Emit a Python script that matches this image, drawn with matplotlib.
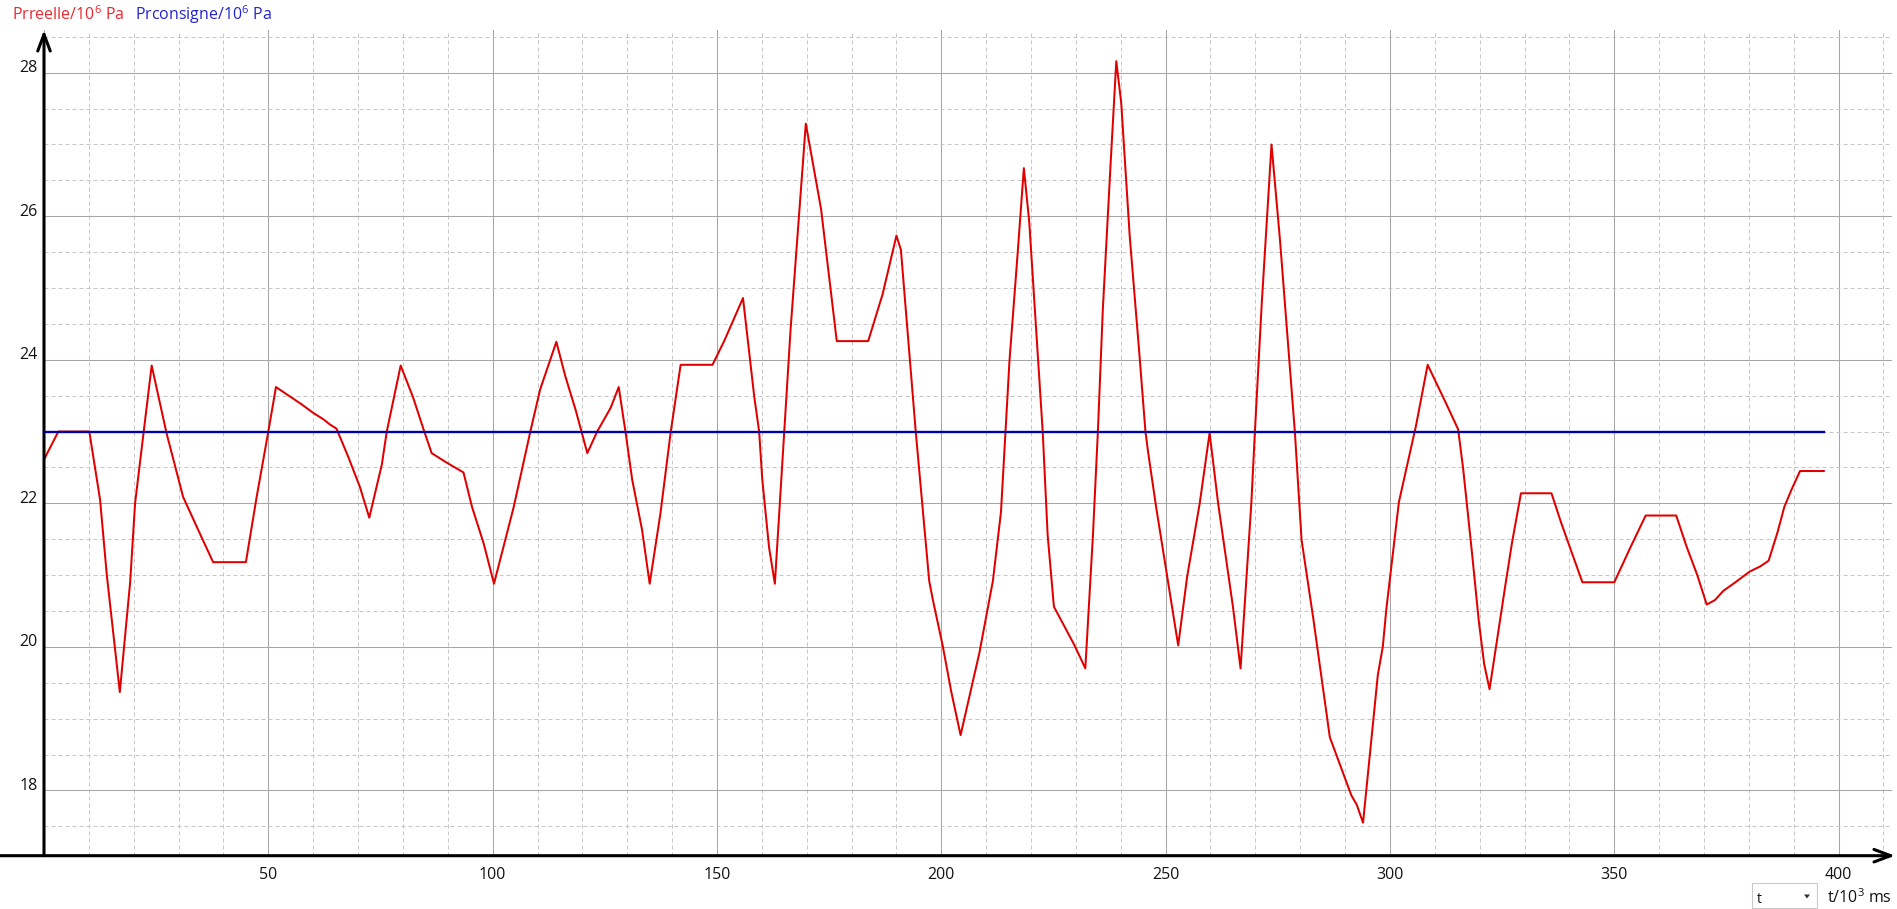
import matplotlib
matplotlib.use("Agg")
import matplotlib.pyplot as plt
from matplotlib.patches import Rectangle, Polygon
from matplotlib.ticker import MultipleLocator
import matplotlib.transforms as mtransforms

# ---------------- data ----------------
t_reel = [0, 3.2, 10.1, 12.5, 14.0, 16.9, 19.2, 20.3, 24.0, 27.3, 31.0, 35.1, 37.7, 45.0,
          47.4, 50.0, 51.7, 54.8, 57.4, 60.0, 62.3, 63.7, 65.2, 67.8, 70.4, 72.5, 75.3,
          76.4, 79.5, 82.3, 84.6, 86.4, 89.4, 93.5, 95.4, 98.0, 100.3, 104.7, 108.4, 110.6,
          114.2, 116.2, 118.5, 121.1, 123.3, 126.3, 128.1, 129.6, 131.1, 133.3, 135.0, 137.4,
          139.7, 141.9, 149.0, 151.6, 155.8, 158.3, 159.4, 160.1, 161.6, 162.9, 165.0, 166.4,
          169.8, 173.2, 176.7, 183.7, 186.9, 190.0, 191.0, 194.3, 197.3, 198.1, 200.3, 202.2,
          204.3, 208.5, 211.5, 213.3, 215.2, 217.0, 218.4, 219.6, 222.6, 223.7, 225.1, 229.7,
          232.1, 233.8, 234.9, 236.0, 237.7, 239.0, 240.1, 242.0, 244.1, 245.5, 246.1, 247.9,
          250.5, 252.8, 254.8, 257.6, 259.8, 261.7, 265.0, 266.7, 269.1, 269.9, 271.4, 273.6,
          275.5, 278.8, 280.3, 282.9, 286.6, 291.4, 292.6, 294.0, 297.3, 298.4, 299.2, 302.0,
          303.5, 305.8, 308.4, 312.6, 315.2, 316.3, 318.3, 319.8, 321.0, 322.2, 325.7, 327.2,
          329.2, 336.0, 338.1, 340.6, 342.9, 350.0, 353.7, 357.0, 363.8, 366.1, 368.5, 370.6,
          372.4, 374.3, 377.0, 380.2, 382.5, 384.4, 386.4, 387.9, 389.5, 391.4, 396.7]
p_reel = [22.61, 23.0, 23.0, 22.05, 21.0, 19.37, 20.9, 22.0, 23.92, 22.98, 22.09, 21.53, 21.18, 21.18,
          22.09, 23.0, 23.62, 23.49, 23.38, 23.26, 23.17, 23.10, 23.04, 22.65, 22.23, 21.80, 22.54,
          23.0, 23.92, 23.47, 23.03, 22.70, 22.58, 22.43, 21.95, 21.44, 20.88, 21.95, 23.0, 23.59,
          24.25, 23.77, 23.3, 22.7, 23.0, 23.33, 23.62, 23.0, 22.33, 21.63, 20.88, 21.86,
          23.0, 23.93, 23.93, 24.26, 24.86, 23.49, 23.0, 22.33, 21.39, 20.88, 23.0, 24.42,
          27.29, 26.1, 24.26, 24.26, 24.91, 25.73, 25.53, 23.0, 20.92, 20.66, 20.02, 19.38,
          18.77, 19.92, 20.92, 21.88, 23.99, 25.47, 26.67, 25.92, 23.0, 21.56, 20.56, 20.02,
          19.7, 21.56, 23.0, 24.7, 26.69, 28.16, 27.58, 25.72, 24.12, 23.0, 22.71, 21.94,
          20.92, 20.02, 20.98, 22.0, 22.98, 22.0, 20.56, 19.70, 22.0, 23.0, 24.76, 27.0,
          25.66, 23.0, 21.49, 20.40, 18.74, 17.93, 17.80, 17.55, 19.61, 20.0, 20.53, 22.02,
          22.44, 23.08, 23.93, 23.38, 23.03, 22.49, 21.30, 20.36, 19.76, 19.41, 20.85, 21.45,
          22.14, 22.14, 21.74, 21.30, 20.90, 20.90, 21.40, 21.83, 21.83, 21.40, 21.00, 20.59,
          20.65, 20.78, 20.90, 21.05, 21.12, 21.20, 21.60, 21.95, 22.19, 22.45, 22.45]
t_consigne = [0, 396.7]
p_consigne = [23.0, 23.0]

x_tick_labels = [50, 100, 150, 200, 250, 300, 350, 400]
y_tick_labels = [18, 20, 22, 24, 26, 28]

label_reel = r"Prreelle/$\mathregular{10^{6}}$ Pa"
label_consigne = r"Prconsigne/$\mathregular{10^{6}}$ Pa"
x_label = r"t/$\mathregular{10^{3}}$ ms"
combo_text = "t"

# ---------------- style ----------------
plt.rcParams['font.family'] = ['Open Sans', 'DejaVu Sans']
plt.rcParams['mathtext.fontset'] = 'custom'
plt.rcParams['mathtext.rm'] = 'Open Sans'
plt.rcParams['mathtext.it'] = 'Open Sans:italic'
plt.rcParams['mathtext.bf'] = 'Open Sans:bold'

W, H = 1897, 909
fig = plt.figure(figsize=(W / 100, H / 100), dpi=100)
fig.patch.set_facecolor('white')

ax_left, ax_right, ax_bottom, ax_top = 44, 1892, 855.7, 30
ax = fig.add_axes([ax_left / W, 1 - ax_bottom / H, (ax_right - ax_left) / W, (ax_bottom - ax_top) / H])
ax.set_xlim(0, 411.9)
ax.set_ylim(17.09, 28.595)
for s in ax.spines.values():
    s.set_visible(False)

ax.xaxis.set_major_locator(MultipleLocator(50))
ax.xaxis.set_minor_locator(MultipleLocator(10))
ax.yaxis.set_major_locator(MultipleLocator(2))
ax.yaxis.set_minor_locator(MultipleLocator(0.5))
ax.tick_params(which='both', length=0, labelbottom=False, labelleft=False)
ax.grid(which='major', color='#a6a6a6', lw=0.75, zorder=0)
ax.grid(which='minor', color='#c6c6c6', lw=0.72, linestyle=(0, (4, 3)), zorder=0)
ax.set_axisbelow(True)

ax.plot(t_reel, p_reel, color='#e00000', lw=1.45, zorder=3)
ax.plot(t_consigne, p_consigne, color='#0000aa', lw=1.7, zorder=4)

# tick labels
xt = ax.get_xaxis_transform() + mtransforms.ScaledTranslation(0, -23.3 / 100, fig.dpi_scale_trans)
for v in x_tick_labels:
    ax.text(v, 0, str(v), transform=xt, ha='center', va='baseline', fontsize=11.5, color='#141414')
yt = ax.get_yaxis_transform() + mtransforms.ScaledTranslation(-6 / 100, 0.6 / 100, fig.dpi_scale_trans)
for v in y_tick_labels:
    ax.text(0, v, str(v), transform=yt, ha='right', va='baseline', fontsize=11.5, color='#141414')

# axes arrows
arrow_kw = dict(arrowstyle='->,head_length=1.2,head_width=0.45', lw=2.2, color='black',
                shrinkA=0, shrinkB=0, mutation_scale=10)
ax.annotate('', xy=((1895 - ax_left) / (ax_right - ax_left), 0),
            xytext=(-ax_left / (ax_right - ax_left), 0),
            xycoords='axes fraction', textcoords='axes fraction',
            arrowprops=arrow_kw, annotation_clip=False)
ax.annotate('', xy=(0, 1.0), xytext=(0, 0),
            xycoords='axes fraction', textcoords='axes fraction',
            arrowprops=arrow_kw, annotation_clip=False)

# series labels at the top
fig.text(11.7 / W, 1 - 20 / H, label_reel, color='#e82a30', fontsize=11.5, va='baseline', ha='left')
fig.text(135 / W, 1 - 20 / H, label_consigne, color='#2424cc', fontsize=11.5, va='baseline', ha='left')

# x label and selector box
fig.text(1892 / W, 1 - 903 / H, x_label, color='#141414', fontsize=11.5, va='baseline', ha='right')
fig.patches.append(Rectangle((1752 / W, 1 - 908 / H), 65 / W, 25 / H, transform=fig.transFigure,
                             facecolor='white', edgecolor='#c8c8c8', lw=0.75))
fig.text(1757 / W, 1 - 903 / H, combo_text, color='#141414', fontsize=10, va='baseline', ha='left')
fig.patches.append(Polygon([(1804 / W, 1 - 894.5 / H), (1810 / W, 1 - 894.5 / H), (1807 / W, 1 - 898.5 / H)],
                           closed=True, transform=fig.transFigure, facecolor='#333333', edgecolor='none'))

fig.savefig('out.png', dpi=100)
